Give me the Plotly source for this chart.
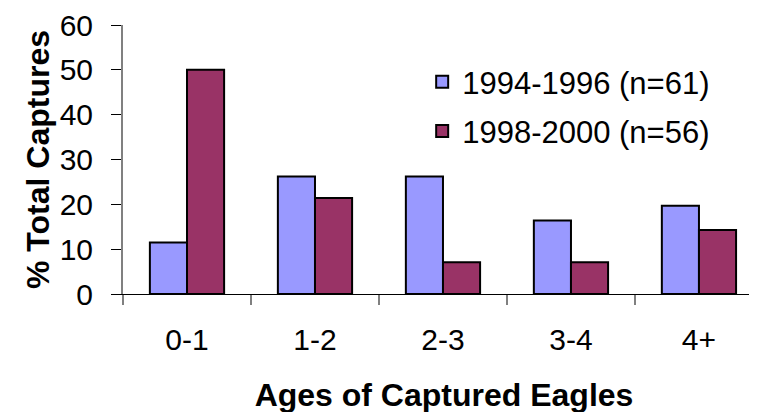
import plotly.graph_objects as go

categories = ["0-1", "1-2", "2-3", "3-4", "4+"]
series_1994 = [11.5, 26.2, 26.2, 16.4, 19.7]
series_1998 = [50.0, 21.4, 7.1, 7.1, 14.3]
name_1994 = "1994-1996 (n=61)"
name_1998 = "1998-2000 (n=56)"
y_ticks = [0, 10, 20, 30, 40, 50, 60]

FONT = "Liberation Sans, Arial, sans-serif"

fig = go.Figure()
fig.add_trace(go.Bar(x=categories, y=series_1994, name=name_1994, legendgroup="a",
                     marker=dict(color="#9999FF", line=dict(color="black", width=2))))
fig.add_trace(go.Bar(x=categories, y=series_1998, name=name_1998, legendgroup="b",
                     marker=dict(color="#993366", line=dict(color="black", width=2))))

fig.update_layout(
    width=757, height=412,
    margin=dict(l=115, r=0, t=12, b=126),
    paper_bgcolor="white", plot_bgcolor="white",
    font=dict(family=FONT, size=30, color="black"),
    barmode="group", bargap=0.42, bargroupgap=0,
    showlegend=True,
    legend=dict(x=0.466, y=0.888, xanchor="left", yanchor="top",
                font=dict(size=31), tracegroupgap=6, bgcolor="rgba(0,0,0,0)",
                itemsizing="constant"),
    xaxis=dict(
        range=[-0.5, 4.516], tickson="boundaries", ticks="outside", ticklen=10,
        tickcolor="#808080", tickwidth=2, showline=True, linecolor="black", linewidth=1,
        showgrid=False, zeroline=False, ticklabelstandoff=19, tickfont=dict(size=30),
        ticklabeloverflow="allow",
        title=dict(text="<b>Ages of Captured Eagles</b>", font=dict(size=32), standoff=28),
    ),
    yaxis=dict(
        range=[0, 60], tickvals=y_ticks, ticks="outside", ticklen=10, tickcolor="black",
        tickwidth=1, showline=True, linecolor="#808080", linewidth=2,
        showgrid=False, zeroline=False, ticklabelstandoff=12, tickfont=dict(size=30),
        ticklabeloverflow="allow",
        title=dict(text="<b>% Total Captures</b>", font=dict(size=32), standoff=0),
    ),
)

fig.write_html("out.html")
